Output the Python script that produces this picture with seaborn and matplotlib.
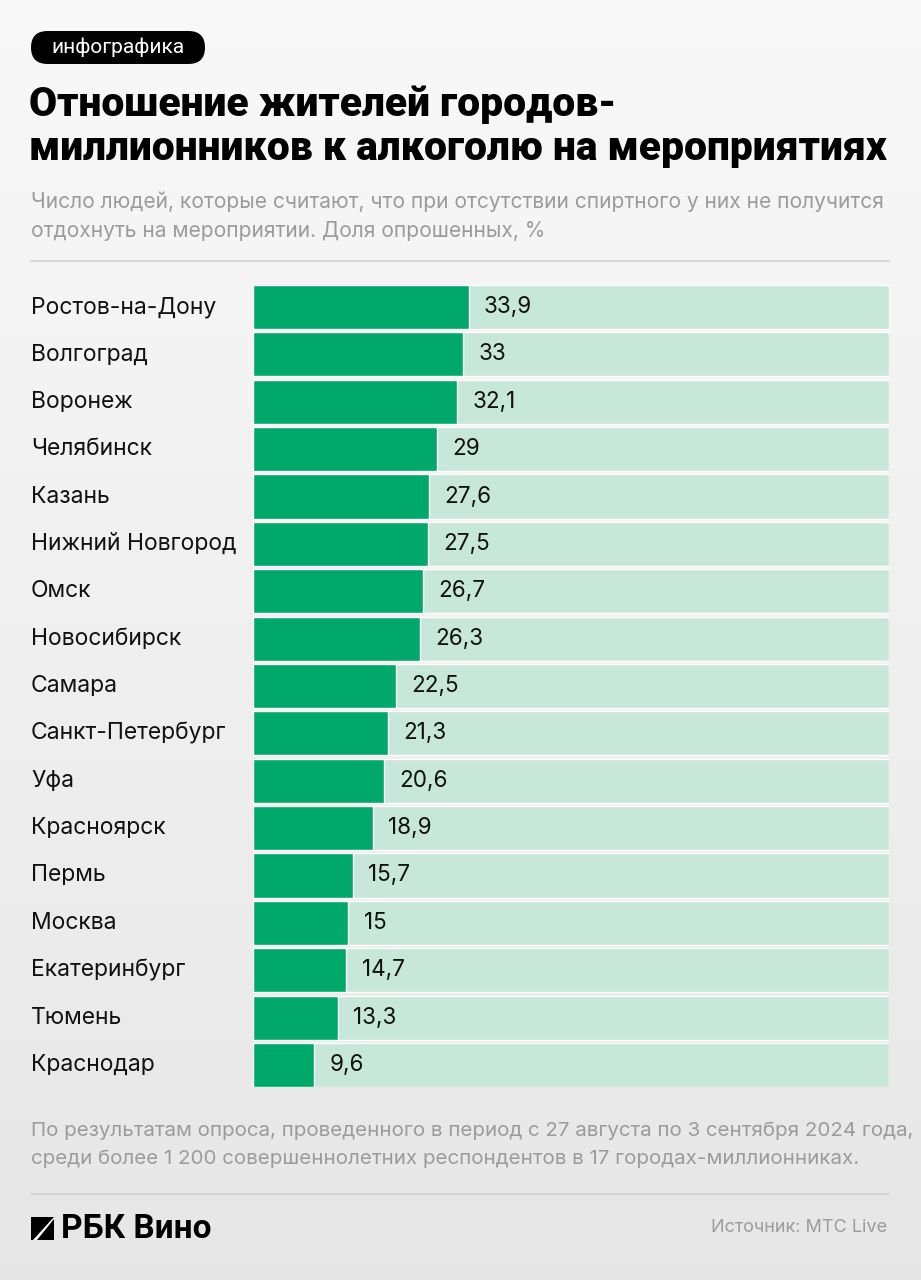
"""
Инфографика: отношение жителей городов-миллионников к алкоголю на мероприятиях.
"""

import numpy as np
import pandas as pd
import matplotlib
matplotlib.use("Agg")
import matplotlib.pyplot as plt
import matplotlib.transforms as mtransforms
from matplotlib.patches import FancyBboxPatch, Polygon, Rectangle
import seaborn as sns

cities = [
    "Ростов-на-Дону", "Волгоград", "Воронеж", "Челябинск", "Казань",
    "Нижний Новгород", "Омск", "Новосибирск", "Самара", "Санкт-Петербург",
    "Уфа", "Красноярск", "Пермь", "Москва", "Екатеринбург", "Тюмень",
    "Краснодар",
]
shares = [33.9, 33, 32.1, 29, 27.6, 27.5, 26.7, 26.3, 22.5, 21.3,
          20.6, 18.9, 15.7, 15, 14.7, 13.3, 9.6]
full = [100] * len(cities)

GREEN = "#00a86b"
MINT = "#c6e7da"
GRAY = "#9b9b9b"
INK = "#111111"

sns.set_theme(style="white")
plt.rcParams["font.family"] = ["Inter", "DejaVu Sans"]

df = pd.DataFrame({"city": cities, "share": shares, "full": full})

W, H = 921, 1280
fig = plt.figure(figsize=(W / 100, H / 100), dpi=100)

# фон с лёгким градиентом
bg = fig.add_axes([0, 0, 1, 1], zorder=-10)
grad = np.linspace(0.975, 0.905, 256).reshape(-1, 1)
bg.imshow(np.dstack([grad, grad, grad]), aspect="auto", extent=[0, 1, 0, 1])
bg.set_xlim(0, 1)
bg.set_ylim(0, 1)
bg.axis("off")


def fx(px):
    return px / W


def fy(py):
    return 1 - py / H


# плашка "инфографика"
fig.patches.append(FancyBboxPatch((fx(31), fy(64)), fx(174), 33 / H,
                                  boxstyle="round,pad=0,rounding_size=0.018",
                                  mutation_aspect=W / H,
                                  transform=fig.transFigure, fc="black", ec="none"))
fig.text(fx(118), fy(47.5), "инфографика", color="white", fontsize=15,
         ha="center", va="center", family=["Roboto", "DejaVu Sans"])

# заголовок
for i, line in enumerate(["Отношение жителей городов-",
                          "миллионников к алкоголю на мероприятиях"]):
    fig.text(fx(29), fy(104 + 45 * i), line, fontsize=29.3, weight=900,
             color="black", ha="left", va="center",
             family=["Roboto", "DejaVu Sans"])

fig.text(fx(31), fy(202), "Число людей, которые считают, что при отсутствии спиртного у них не получится",
         fontsize=15.1, color=GRAY, ha="left", va="center")
fig.text(fx(31), fy(231), "отдохнуть на мероприятии. Доля опрошенных, %",
         fontsize=15.1, color=GRAY, ha="left", va="center")

fig.add_artist(plt.Line2D([fx(31), fx(889)], [fy(261), fy(261)],
                          color="#d2d2d2", lw=1.2, transform=fig.transFigure))

# столбцы
ax = fig.add_axes([fx(253), fy(1087), fx(636), (1087 - 285) / H])
sns.barplot(data=df, y="city", x="full", color=MINT, width=0.93,
            saturation=1, ax=ax, orient="h")
sns.barplot(data=df, y="city", x="share", color=GREEN, width=0.93,
            saturation=1, ax=ax, orient="h")
ax.set_xlim(0, 100)
ax.set_ylim(16.465, -0.465)
ax.set_xlabel("")
ax.set_ylabel("")
ax.set_xticks([])
ax.set_yticks([])
ax.patch.set_alpha(0)
for s in ax.spines.values():
    s.set_visible(False)

label_tr = mtransforms.blended_transform_factory(fig.transFigure, ax.transData)
for i, (c, v) in enumerate(zip(cities, shares)):
    ax.text(v + 2.4, i, f"{v:g}".replace(".", ","), fontsize=16.2,
            color=INK, ha="left", va="center")
    ax.text(fx(31), i, c, transform=label_tr, fontsize=16.5,
            color=INK, ha="left", va="center")

# подвал
fig.text(fx(31), fy(1131), "По результатам опроса, проведенного в период с 27 августа по 3 сентября 2024 года,",
         fontsize=14.8, color=GRAY, ha="left", va="center")
fig.text(fx(31), fy(1159), "среди более 1 200 совершеннолетних респондентов в 17 городах-миллионниках.",
         fontsize=14.8, color=GRAY, ha="left", va="center")

fig.add_artist(plt.Line2D([fx(31), fx(889)], [fy(1194), fy(1194)],
                          color="#d2d2d2", lw=1.2, transform=fig.transFigure))

# логотип
fig.patches.append(Rectangle((fx(31), fy(1240)), fx(23), 23 / H,
                             transform=fig.transFigure, fc="black", ec="none"))
fig.patches.append(Polygon([(fx(33), fy(1240)), (fx(37), fy(1240)),
                            (fx(54), fy(1219)), (fx(54), fy(1217))],
                           closed=True, transform=fig.transFigure,
                           fc="white", ec="none"))
fig.text(fx(61), fy(1229), "РБК Вино", fontsize=24, weight="bold",
         color="black", ha="left", va="center",
         family=["Roboto", "DejaVu Sans"])
fig.text(fx(887), fy(1228), "Источник: МТС Live", fontsize=13, color=GRAY,
         ha="right", va="center")

fig.savefig("out.png", dpi=100)
